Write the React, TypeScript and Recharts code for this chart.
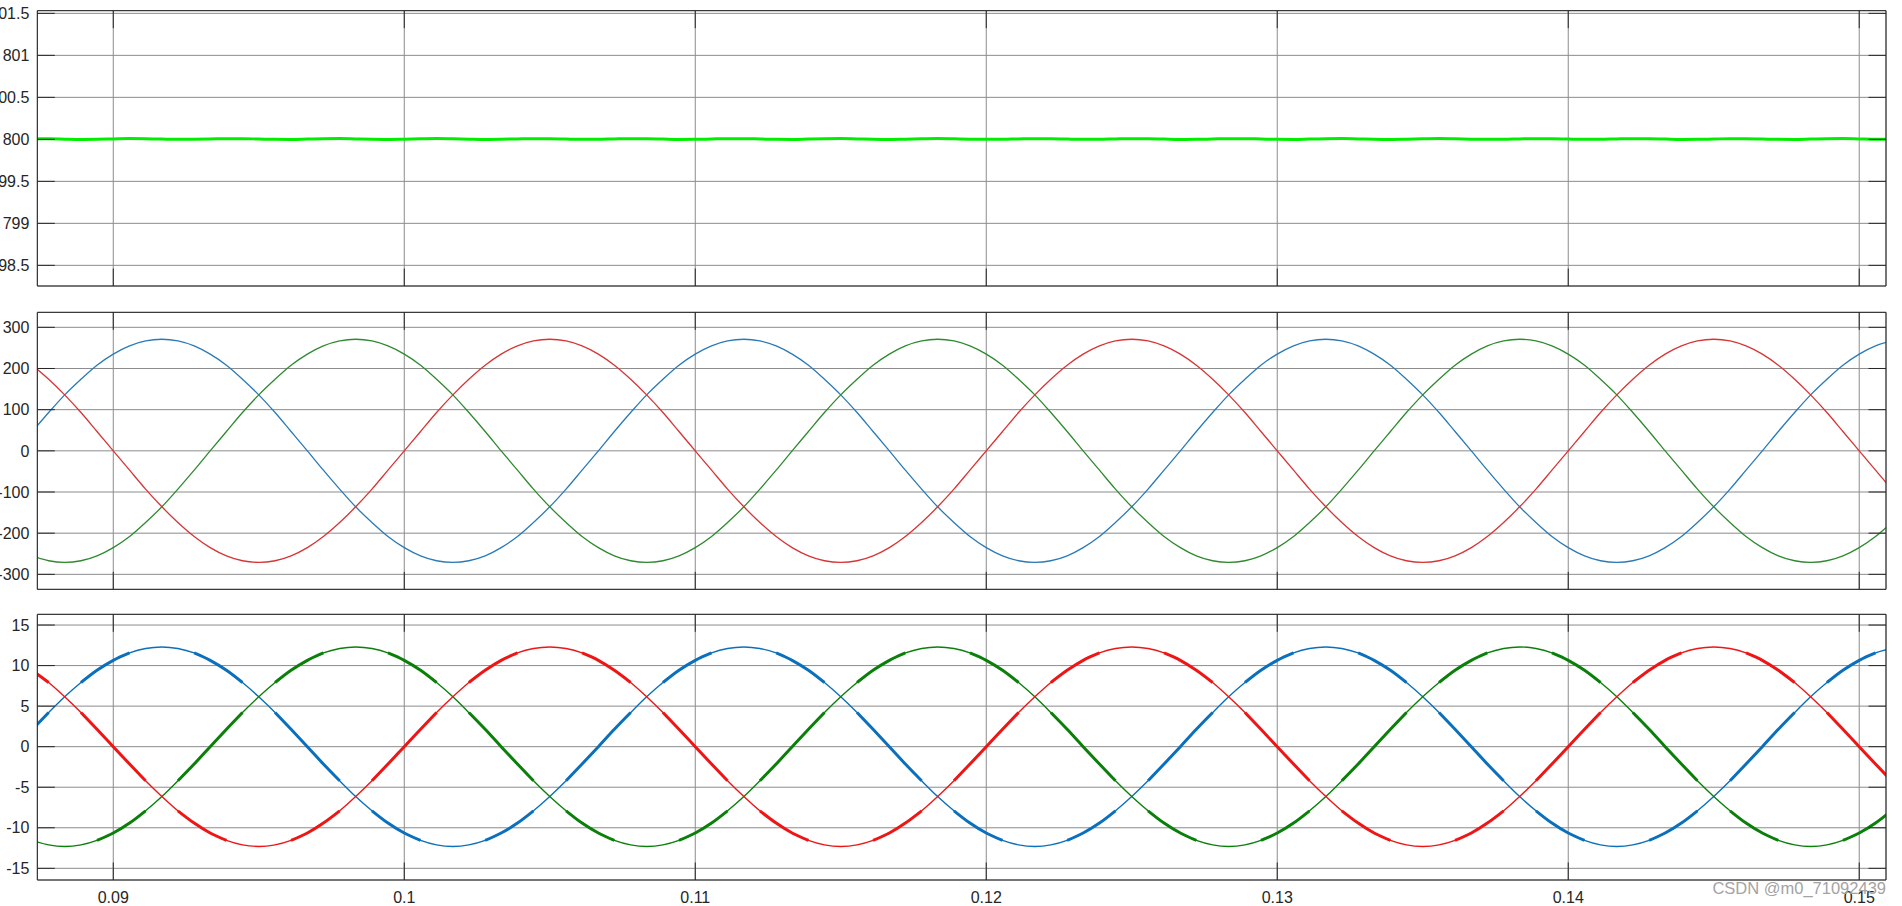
import React from 'react';
import { LineChart, Line, XAxis, YAxis, CartesianGrid } from 'recharts';

// time base (s)
const TIME = [
  0.08722, 0.08778, 0.08833, 0.08889, 0.08944,
  0.09, 0.09056, 0.09111, 0.09167, 0.09222, 0.09278, 0.09333, 0.09389, 0.09444, 0.095, 0.09556, 0.09611, 0.09667, 0.09722, 0.09778, 0.09833, 0.09889, 0.09944,
  0.1, 0.10056, 0.10111, 0.10167, 0.10222, 0.10278, 0.10333, 0.10389, 0.10444, 0.105, 0.10556, 0.10611, 0.10667, 0.10722, 0.10778, 0.10833, 0.10889, 0.10944,
  0.11, 0.11056, 0.11111, 0.11167, 0.11222, 0.11278, 0.11333, 0.11389, 0.11444, 0.115, 0.11556, 0.11611, 0.11667, 0.11722, 0.11778, 0.11833, 0.11889, 0.11944,
  0.12, 0.12056, 0.12111, 0.12167, 0.12222, 0.12278, 0.12333, 0.12389, 0.12444, 0.125, 0.12556, 0.12611, 0.12667, 0.12722, 0.12778, 0.12833, 0.12889, 0.12944,
  0.13, 0.13056, 0.13111, 0.13167, 0.13222, 0.13278, 0.13333, 0.13389, 0.13444, 0.135, 0.13556, 0.13611, 0.13667, 0.13722, 0.13778, 0.13833, 0.13889, 0.13944,
  0.14, 0.14056, 0.14111, 0.14167, 0.14222, 0.14278, 0.14333, 0.14389, 0.14444, 0.145, 0.14556, 0.14611, 0.14667, 0.14722, 0.14778, 0.14833, 0.14889, 0.14944,
  0.15, 0.15056, 0.15111,
];

// panel 1: DC-link voltage
const VDC = [
  800.008, 800.006, 800.002, 799.999, 800.001, 800.005, 800.009, 800.007, 800.003, 800.0, 800.001, 800.004,
  800.008, 800.008, 800.004, 800.0, 799.999, 800.003, 800.007, 800.009, 800.005, 800.001, 799.999, 800.002,
  800.006, 800.009, 800.006, 800.002, 799.999, 800.001, 800.005, 800.008, 800.007, 800.003, 800.0, 800.001,
  800.005, 800.008, 800.007, 800.003, 799.999, 800.0, 800.004, 800.008, 800.008, 800.004, 800.0, 799.999,
  800.003, 800.007, 800.009, 800.005, 800.001, 799.999, 800.002, 800.006, 800.009, 800.006, 800.002, 800.0,
  800.001, 800.005, 800.008, 800.007, 800.003, 800.0, 800.001, 800.005, 800.008, 800.007, 800.003, 799.999,
  800.0, 800.004, 800.008, 800.008, 800.004, 800.0, 799.999, 800.003, 800.007, 800.009, 800.005, 800.001,
  799.999, 800.002, 800.006, 800.009, 800.006, 800.002, 800.0, 800.001, 800.005, 800.008, 800.007, 800.003,
  800.0, 800.001, 800.005, 800.008, 800.007, 800.003, 799.999, 800.0, 800.004, 800.008, 800.008, 800.004,
  800.0, 799.999, 800.003, 800.007, 800.009, 800.005, 800.001, 800.002,
];

// panel 2: phase voltages
const VA = [
  47, 93, 136, 174, 208, 235, 255, 267, 271, 267, 255, 235, 208, 174, 136, 93, 47, 0, -47, -93, -136, -174, -208, -235, -255, -267, -271, -267, -255, -235, -208, -174, -136, -93, -47, 0,
  47, 93, 136, 174, 208, 235, 255, 267, 271, 267, 255, 235, 208, 174, 136, 93, 47, 0, -47, -93, -136, -174, -208, -235, -255, -267, -271, -267, -255, -235, -208, -174, -136, -93, -47, 0,
  47, 93, 136, 174, 208, 235, 255, 267, 271, 267, 255, 235, 208, 174, 136, 93, 47, 0, -47, -93, -136, -174, -208, -235, -255, -267, -271, -267, -255, -235, -208, -174, -136, -93, -47, 0,
  47, 93, 136, 174, 208, 235, 255, 267,
];
const VB = [
  -255, -267, -271, -267, -255, -235, -208, -174, -136, -93, -47, 0, 47, 93, 136, 174, 208, 235, 255, 267, 271, 267, 255, 235, 208, 174, 136, 93, 47, 0, -47, -93, -136, -174, -208, -235,
  -255, -267, -271, -267, -255, -235, -208, -174, -136, -93, -47, 0, 47, 93, 136, 174, 208, 235, 255, 267, 271, 267, 255, 235, 208, 174, 136, 93, 47, 0, -47, -93, -136, -174, -208, -235,
  -255, -267, -271, -267, -255, -235, -208, -174, -136, -93, -47, 0, 47, 93, 136, 174, 208, 235, 255, 267, 271, 267, 255, 235, 208, 174, 136, 93, 47, 0, -47, -93, -136, -174, -208, -235,
  -255, -267, -271, -267, -255, -235, -208, -174,
];
const VC = [
  208, 174, 136, 93, 47, 0, -47, -93, -136, -174, -208, -235, -255, -267, -271, -267, -255, -235, -208, -174, -136, -93, -47, 0, 47, 93, 136, 174, 208, 235, 255, 267, 271, 267, 255, 235,
  208, 174, 136, 93, 47, 0, -47, -93, -136, -174, -208, -235, -255, -267, -271, -267, -255, -235, -208, -174, -136, -93, -47, 0, 47, 93, 136, 174, 208, 235, 255, 267, 271, 267, 255, 235,
  208, 174, 136, 93, 47, 0, -47, -93, -136, -174, -208, -235, -255, -267, -271, -267, -255, -235, -208, -174, -136, -93, -47, 0, 47, 93, 136, 174, 208, 235, 255, 267, 271, 267, 255, 235,
  208, 174, 136, 93, 47, 0, -47, -93,
];

// panel 3: phase currents
const IA = [
  2.14, 4.21, 6.15, 7.91, 9.42, 10.65, 11.56, 12.11, 12.3, 12.11, 11.56, 10.65, 9.42, 7.91, 6.15, 4.21, 2.14, 0, -2.14, -4.21, -6.15, -7.91, -9.42, -10.65, -11.56, -12.11, -12.3, -12.11, -11.56, -10.65, -9.42, -7.91, -6.15, -4.21, -2.14, 0,
  2.14, 4.21, 6.15, 7.91, 9.42, 10.65, 11.56, 12.11, 12.3, 12.11, 11.56, 10.65, 9.42, 7.91, 6.15, 4.21, 2.14, 0, -2.14, -4.21, -6.15, -7.91, -9.42, -10.65, -11.56, -12.11, -12.3, -12.11, -11.56, -10.65, -9.42, -7.91, -6.15, -4.21, -2.14, 0,
  2.14, 4.21, 6.15, 7.91, 9.42, 10.65, 11.56, 12.11, 12.3, 12.11, 11.56, 10.65, 9.42, 7.91, 6.15, 4.21, 2.14, 0, -2.14, -4.21, -6.15, -7.91, -9.42, -10.65, -11.56, -12.11, -12.3, -12.11, -11.56, -10.65, -9.42, -7.91, -6.15, -4.21, -2.14, 0,
  2.14, 4.21, 6.15, 7.91, 9.42, 10.65, 11.56, 12.11,
];
const IB = [
  -11.56, -12.11, -12.3, -12.11, -11.56, -10.65, -9.42, -7.91, -6.15, -4.21, -2.14, 0, 2.14, 4.21, 6.15, 7.91, 9.42, 10.65, 11.56, 12.11, 12.3, 12.11, 11.56, 10.65, 9.42, 7.91, 6.15, 4.21, 2.14, 0, -2.14, -4.21, -6.15, -7.91, -9.42, -10.65,
  -11.56, -12.11, -12.3, -12.11, -11.56, -10.65, -9.42, -7.91, -6.15, -4.21, -2.14, 0, 2.14, 4.21, 6.15, 7.91, 9.42, 10.65, 11.56, 12.11, 12.3, 12.11, 11.56, 10.65, 9.42, 7.91, 6.15, 4.21, 2.14, 0, -2.14, -4.21, -6.15, -7.91, -9.42, -10.65,
  -11.56, -12.11, -12.3, -12.11, -11.56, -10.65, -9.42, -7.91, -6.15, -4.21, -2.14, 0, 2.14, 4.21, 6.15, 7.91, 9.42, 10.65, 11.56, 12.11, 12.3, 12.11, 11.56, 10.65, 9.42, 7.91, 6.15, 4.21, 2.14, 0, -2.14, -4.21, -6.15, -7.91, -9.42, -10.65,
  -11.56, -12.11, -12.3, -12.11, -11.56, -10.65, -9.42, -7.91,
];
const IC = [
  9.42, 7.91, 6.15, 4.21, 2.14, 0, -2.14, -4.21, -6.15, -7.91, -9.42, -10.65, -11.56, -12.11, -12.3, -12.11, -11.56, -10.65, -9.42, -7.91, -6.15, -4.21, -2.14, 0, 2.14, 4.21, 6.15, 7.91, 9.42, 10.65, 11.56, 12.11, 12.3, 12.11, 11.56, 10.65,
  9.42, 7.91, 6.15, 4.21, 2.14, 0, -2.14, -4.21, -6.15, -7.91, -9.42, -10.65, -11.56, -12.11, -12.3, -12.11, -11.56, -10.65, -9.42, -7.91, -6.15, -4.21, -2.14, 0, 2.14, 4.21, 6.15, 7.91, 9.42, 10.65, 11.56, 12.11, 12.3, 12.11, 11.56, 10.65,
  9.42, 7.91, 6.15, 4.21, 2.14, 0, -2.14, -4.21, -6.15, -7.91, -9.42, -10.65, -11.56, -12.11, -12.3, -12.11, -11.56, -10.65, -9.42, -7.91, -6.15, -4.21, -2.14, 0, 2.14, 4.21, 6.15, 7.91, 9.42, 10.65, 11.56, 12.11, 12.3, 12.11, 11.56, 10.65,
  9.42, 7.91, 6.15, 4.21, 2.14, 0, -2.14, -4.21,
];

const X_TICKS = [0.09, 0.1, 0.11, 0.12, 0.13, 0.14, 0.15];
const X_DOMAIN = [0.08739, 0.15092];
const Y1_TICKS = [798.5, 799, 799.5, 800, 800.5, 801, 801.5];
const Y2_TICKS = [-300, -200, -100, 0, 100, 200, 300];
const Y3_TICKS = [-15, -10, -5, 0, 5, 10, 15];

// ripple band: current segments (by magnitude) drawn heavier, like the switching ripple in the reference
const heavy = (v: number) => {
  const m = Math.abs(v);
  return m <= 4.3 || (m >= 7.9 && m <= 11.6) ? v : null;
};

const data1 = TIME.map((t, i) => ({ t, vdc: VDC[i] }));
const data2 = TIME.map((t, i) => ({ t, a: VA[i], b: VB[i], c: VC[i] }));
const data3 = TIME.map((t, i) => ({
  t,
  a: IA[i],
  b: IB[i],
  c: IC[i],
  aH: heavy(IA[i]),
  bH: heavy(IB[i]),
  cH: heavy(IC[i]),
}));

const FONT = '"Liberation Sans", Arial, Helvetica, sans-serif';
const AXIS = '#262626';
const GRID = '#8c8c8c';
const TICK = -17.5;

const NoLabel = () => <g />;

type LineDef = { key: string; color: string; width: number };

function Panel(props: {
  top: number;
  height: number;
  plotTop: number;
  plotBottom: number;
  data: any[];
  yDomain: number[];
  yTicks: number[];
  lines: LineDef[];
  showX: boolean;
}) {
  const { top, height, plotTop, plotBottom, data, yDomain, yTicks, lines, showX } = props;
  const topH = plotTop - top;
  const bottomH = top + height - plotBottom;
  const labelStyle = { fill: AXIS, fontSize: 16, fontFamily: FONT };
  return (
    <div style={{ position: 'absolute', left: 0, top }}>
      <LineChart width={1902} height={height} data={data} margin={{ top: 0, right: 0, bottom: 0, left: 0 }}>
        <CartesianGrid stroke={GRID} strokeWidth={1} />
        <XAxis
          dataKey="t"
          type="number"
          domain={X_DOMAIN}
          ticks={X_TICKS}
          allowDataOverflow
          interval={0}
          height={bottomH}
          tickSize={TICK}
          tickMargin={29.2}
          tick={showX ? labelStyle : NoLabel}
          axisLine={{ stroke: AXIS }}
          tickLine={{ stroke: AXIS }}
        />
        <XAxis
          xAxisId="top"
          orientation="top"
          dataKey="t"
          type="number"
          domain={X_DOMAIN}
          ticks={X_TICKS}
          allowDataOverflow
          interval={0}
          height={topH}
          tickSize={TICK}
          tick={NoLabel}
          axisLine={{ stroke: AXIS }}
          tickLine={{ stroke: AXIS }}
        />
        <YAxis
          type="number"
          domain={yDomain}
          ticks={yTicks}
          allowDataOverflow
          interval={0}
          width={37.33}
          tickSize={TICK}
          tickMargin={25.5}
          tick={labelStyle}
          axisLine={{ stroke: AXIS }}
          tickLine={{ stroke: AXIS }}
        />
        <YAxis
          yAxisId="right"
          orientation="right"
          type="number"
          domain={yDomain}
          ticks={yTicks}
          allowDataOverflow
          interval={0}
          width={16}
          tickSize={TICK}
          tick={NoLabel}
          axisLine={{ stroke: AXIS }}
          tickLine={{ stroke: AXIS }}
        />
        {lines.map((l) => (
          <Line
            key={l.key}
            dataKey={l.key}
            type="monotone"
            stroke={l.color}
            strokeWidth={l.width}
            dot={false}
            activeDot={false}
            connectNulls={false}
            isAnimationActive={false}
          />
        ))}
      </LineChart>
    </div>
  );
}

export default function App() {
  return (
    <div style={{ position: 'absolute', left: 0, top: 0, width: 1902, height: 906, overflow: 'hidden', background: '#fff' }}>
      <Panel
        top={0}
        height={300}
        plotTop={10.67}
        plotBottom={286}
        data={data1}
        yDomain={[798.254, 801.532]}
        yTicks={Y1_TICKS}
        lines={[{ key: 'vdc', color: '#00ee00', width: 3 }]}
        showX={false}
      />
      <Panel
        top={300}
        height={300}
        plotTop={312.33}
        plotBottom={589.33}
        data={data2}
        yDomain={[-336.4, 336.4]}
        yTicks={Y2_TICKS}
        lines={[
          { key: 'a', color: '#2a7ab8', width: 1.3 },
          { key: 'b', color: '#2e8a2e', width: 1.3 },
          { key: 'c', color: '#d93434', width: 1.3 },
        ]}
        showX={false}
      />
      <Panel
        top={600}
        height={306}
        plotTop={614.33}
        plotBottom={880}
        data={data3}
        yDomain={[-16.44, 16.32]}
        yTicks={Y3_TICKS}
        lines={[
          { key: 'a', color: '#0a70bd', width: 1.4 },
          { key: 'b', color: '#0a800a', width: 1.4 },
          { key: 'c', color: '#f01515', width: 1.4 },
          { key: 'aH', color: '#0a70bd', width: 3 },
          { key: 'bH', color: '#0a800a', width: 3 },
          { key: 'cH', color: '#f01515', width: 3 },
        ]}
        showX={true}
      />
      <div style={{ position: 'absolute', left: 0, top: 0, pointerEvents: 'none' }}>
        <svg width={1902} height={906}>
          <text x={1886} y={893.5} textAnchor="end" fontSize={16.5} fontFamily={FONT} fill="#a3a3a3">
            CSDN @m0_71092439
          </text>
        </svg>
      </div>
    </div>
  );
}
